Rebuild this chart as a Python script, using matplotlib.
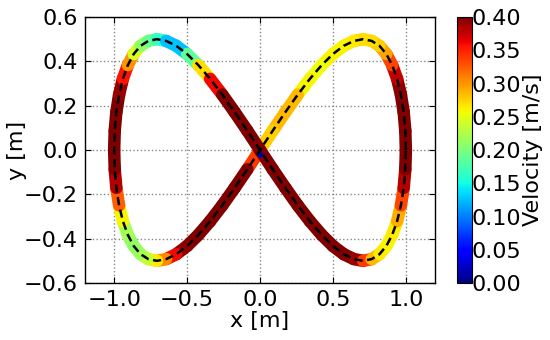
import numpy as np
import matplotlib
matplotlib.use("Agg")
import matplotlib.pyplot as plt
from matplotlib.collections import LineCollection
from matplotlib.colors import Normalize

# Trajectory points (figure-eight path)
x_pts = [1.000, 0.996, 0.985, 0.966, 0.940, 0.906, 0.866, 0.819, 0.766, 0.707,
         0.643, 0.574, 0.500, 0.423, 0.342, 0.259, 0.174, 0.087, 0.000,
         -0.087, -0.174, -0.259, -0.342, -0.423, -0.500, -0.574, -0.643, -0.707,
         -0.766, -0.819, -0.866, -0.906, -0.940, -0.966, -0.985, -0.996, -1.000,
         -0.996, -0.985, -0.966, -0.940, -0.906, -0.866, -0.819, -0.766, -0.707,
         -0.643, -0.574, -0.500, -0.423, -0.342, -0.259, -0.174, -0.087, 0.000,
         0.087, 0.174, 0.259, 0.342, 0.423, 0.500, 0.574, 0.643, 0.707,
         0.766, 0.819, 0.866, 0.906, 0.940, 0.966, 0.985, 0.996, 1.000]
y_pts = [0.000, 0.087, 0.171, 0.250, 0.321, 0.383, 0.433, 0.470, 0.492, 0.500,
         0.492, 0.470, 0.433, 0.383, 0.321, 0.250, 0.171, 0.087, 0.000,
         -0.087, -0.171, -0.250, -0.321, -0.383, -0.433, -0.470, -0.492, -0.500,
         -0.492, -0.470, -0.433, -0.383, -0.321, -0.250, -0.171, -0.087, 0.000,
         0.087, 0.171, 0.250, 0.321, 0.383, 0.433, 0.470, 0.492, 0.500,
         0.492, 0.470, 0.433, 0.383, 0.321, 0.250, 0.171, 0.087, 0.000,
         -0.087, -0.171, -0.250, -0.321, -0.383, -0.433, -0.470, -0.492, -0.500,
         -0.492, -0.470, -0.433, -0.383, -0.321, -0.250, -0.171, -0.087, 0.000]
# Velocity [m/s] along the path
vel = [0.40, 0.40, 0.40, 0.40, 0.39, 0.36, 0.31, 0.28, 0.27, 0.27,
       0.27, 0.26, 0.26, 0.26, 0.25, 0.27, 0.30, 0.27, 0.28,
       0.40, 0.40, 0.40, 0.40, 0.40, 0.40, 0.39, 0.33, 0.28,
       0.25, 0.22, 0.21, 0.21, 0.23, 0.29, 0.36, 0.40, 0.40,
       0.40, 0.40, 0.40, 0.38, 0.33, 0.27, 0.22, 0.20, 0.18,
       0.15, 0.10, 0.15, 0.22, 0.32, 0.40, 0.40, 0.40, 0.40,
       0.40, 0.40, 0.40, 0.40, 0.40, 0.40, 0.40, 0.40, 0.38,
       0.30, 0.27, 0.26, 0.26, 0.27, 0.31, 0.36, 0.40, 0.40]
start_x = [0.0]
start_y = [-0.02]
start_v = [0.02]

xticks = [-1.0, -0.5, 0.0, 0.5, 1.0]
yticks = [-0.6, -0.4, -0.2, 0.0, 0.2, 0.4, 0.6]
cticks = [0.00, 0.05, 0.10, 0.15, 0.20, 0.25, 0.30, 0.35, 0.40]

plt.rcParams['font.family'] = ['DejaVu Sans']
plt.rcParams['font.size'] = 16

fig = plt.figure(figsize=(5.5, 3.4), dpi=100)
ax = fig.add_axes([0.1545, 0.1676, 0.6365, 0.7824])
cax = fig.add_axes([0.831, 0.1676, 0.027, 0.7824])

norm = Normalize(vmin=0.0, vmax=0.40)
cmap = plt.get_cmap('jet')

xa = np.array(x_pts); ya = np.array(y_pts); va = np.array(vel)
pts = np.column_stack([xa, ya]).reshape(-1, 1, 2)
segs = np.concatenate([pts[:-1], pts[1:]], axis=1)
segv = 0.5 * (va[:-1] + va[1:])
lc = LineCollection(segs, cmap=cmap, norm=norm, linewidths=9, capstyle='round', joinstyle='round', zorder=2)
lc.set_array(segv)
ax.add_collection(lc)
ax.scatter(start_x, start_y, c=start_v, cmap=cmap, norm=norm, s=20, zorder=3, edgecolors='none')

ax.plot(x_pts, y_pts, color='black', linestyle='--', linewidth=1.8, dashes=(3.3, 1.8), zorder=4)

ax.set_xlim(-1.2, 1.2)
ax.set_ylim(-0.6, 0.6)
ax.set_xticks(xticks)
ax.set_yticks(yticks)
ax.set_xticklabels([f"{v:.1f}".replace('-', '\u2212') for v in xticks])
ax.set_yticklabels([f"{v:.1f}".replace('-', '\u2212') for v in yticks])
ax.grid(True, color='#888888', linestyle=':', linewidth=1.0)
ax.tick_params(direction='in', top=True, right=True, length=4, width=0.8, pad=5)
ax.set_xlabel('x [m]')
ax.set_ylabel('y [m]')
ax.yaxis.set_label_coords(-0.166, 0.5)
ax.xaxis.set_label_coords(0.5, -0.105)
for s in ax.spines.values():
    s.set_linewidth(1.0)

sm = plt.cm.ScalarMappable(norm=norm, cmap=cmap)
cb = fig.colorbar(sm, cax=cax, ticks=cticks)
cb.ax.set_yticklabels([f"{v:.2f}" for v in cticks])
cb.ax.tick_params(length=0, pad=0)
cb.set_label('Velocity [m/s]')
cb.ax.yaxis.set_label_coords(4.45, 0.5)
cb.outline.set_linewidth(0.8)

fig.savefig('out.png', dpi=100)
